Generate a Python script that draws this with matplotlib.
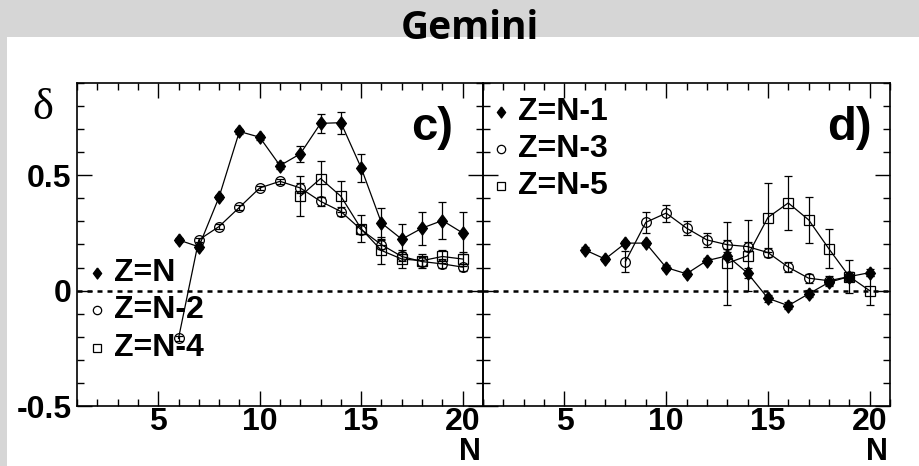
import numpy as np
import matplotlib
matplotlib.use("Agg")
from matplotlib import pyplot as plt
from matplotlib.patches import Rectangle
from matplotlib.ticker import MultipleLocator

# --- data, panel c) ---
N_c = np.arange(6, 21)
d_ZN = [0.22, 0.19, 0.406, 0.69, 0.665, 0.542, 0.593, 0.725, 0.728, 0.532, 0.293, 0.223, 0.271, 0.304, 0.25]
e_ZN = [0.01, 0.01, 0.01, 0.01, 0.01, 0.015, 0.035, 0.04, 0.047, 0.06, 0.067, 0.065, 0.072, 0.082, 0.09]
d_ZN2 = [-0.207, 0.22, 0.278, 0.361, 0.445, 0.474, 0.445, 0.387, 0.343, 0.264, 0.199, 0.148, 0.126, 0.116, 0.102]
e_ZN2 = [0.01, 0.01, 0.01, 0.01, 0.01, 0.01, 0.02, 0.02, 0.02, 0.02, 0.02, 0.02, 0.02, 0.02, 0.015]
N_c4 = np.arange(12, 21)
d_ZN4 = [0.409, 0.486, 0.409, 0.268, 0.174, 0.137, 0.13, 0.148, 0.137]
e_ZN4 = [0.087, 0.078, 0.067, 0.058, 0.058, 0.04, 0.03, 0.03, 0.03]

# --- data, panel d) ---
N_d = np.arange(6, 21)
d_ZN1 = [0.177, 0.137, 0.206, 0.206, 0.1, 0.073, 0.13, 0.151, 0.076, -0.033, -0.065, -0.014, 0.036, 0.061, 0.078]
e_ZN1 = [0.01, 0.01, 0.01, 0.01, 0.01, 0.01, 0.01, 0.015, 0.02, 0.015, 0.015, 0.015, 0.015, 0.02, 0.015]
N_d3 = np.arange(8, 20)
d_ZN3 = [0.126, 0.296, 0.336, 0.271, 0.22, 0.199, 0.191, 0.165, 0.102, 0.054, 0.043, 0.061]
e_ZN3 = [0.045, 0.045, 0.037, 0.03, 0.03, 0.02, 0.02, 0.02, 0.02, 0.02, 0.02, 0.02]
N_d5 = np.arange(13, 21)
d_ZN5 = [0.119, 0.151, 0.317, 0.38, 0.307, 0.181, 0.061, 0.0]
e_ZN5 = [0.18, 0.154, 0.148, 0.116, 0.1, 0.085, 0.07, 0.062]

# losange un peu plus large que le 'd' de matplotlib
DIAM = [(0, 1), (0.75, 0), (0, -1), (-0.75, 0), (0, 1)]

W, H = 919, 466
fig = plt.figure(figsize=(W / 100, H / 100), dpi=100)
fig.patch.set_facecolor('#d6d6d6')
fig.patches.append(Rectangle((7 / W, 0), 1, 1 - 37 / H, transform=fig.transFigure,
                             facecolor='white', edgecolor='none', zorder=-10))

fig.text(470 / W, 1 - 39 / H, 'Gemini', ha='center', va='baseline',
         fontsize=28, fontweight='bold', family='Open Sans')

bot = 1 - 406 / H
top = 1 - 83 / H
ax1 = fig.add_axes([77 / W, bot, (483 - 77) / W, top - bot])
ax2 = fig.add_axes([483 / W, bot, (890 - 483) / W, top - bot])

lab_font = dict(family='Liberation Sans', fontweight='bold')

def style(ax):
    ax.set_xlim(1, 21)
    ax.set_ylim(-0.5, 0.9)
    ax.xaxis.set_major_locator(MultipleLocator(5))
    ax.xaxis.set_minor_locator(MultipleLocator(1))
    ax.yaxis.set_major_locator(MultipleLocator(0.5))
    ax.yaxis.set_minor_locator(MultipleLocator(0.1))
    ax.tick_params(which='both', direction='in', top=True, right=True, width=1)
    ax.tick_params(which='major', length=11, labelsize=23, pad=4)
    ax.tick_params(axis='x', which='major', pad=1)
    ax.tick_params(which='minor', length=5)
    for s in ax.spines.values():
        s.set_linewidth(1.2)
    ax.axhline(0, color='k', ls=(0, (2, 2)), lw=1.8, zorder=1)
    ax.set_xticks([5, 10, 15, 20])
    ax.set_xticklabels(['5', '10', '15', '20'], **lab_font)
    ax.patch.set_alpha(0)

def series(ax, x, y, e, marker, face, ms):
    ax.errorbar(x, y, yerr=e, color='k', lw=0.9, elinewidth=0.9, capsize=3, capthick=0.9,
                marker=marker, ms=ms, mfc=face, mec='k', mew=0.9, zorder=3)

style(ax1)
style(ax2)
ax1.set_yticks([-0.5, 0, 0.5])
ax1.set_yticklabels(['-0.5', '0', '0.5'], **lab_font)
ax2.tick_params(labelleft=False)

series(ax1, N_c, d_ZN, e_ZN, DIAM, 'k', 9.5)
series(ax1, N_c, d_ZN2, e_ZN2, 'o', 'none', 7)
series(ax1, N_c4, d_ZN4, e_ZN4, 's', 'none', 7)

series(ax2, N_d, d_ZN1, e_ZN1, DIAM, 'k', 9.5)
series(ax2, N_d3, d_ZN3, e_ZN3, 'o', 'none', 7)
series(ax2, N_d5, d_ZN5, e_ZN5, 's', 'none', 7)

# legendes
def legend(ax, x0, ys, labels, markers, faces, sizes):
    for y, lab, m, f, s in zip(ys, labels, markers, faces, sizes):
        ax.plot([x0], [y], marker=m, ms=s, mfc=f, mec='k', mew=0.9,
                color='k', transform=ax.transAxes, clip_on=False)
        ax.text(x0 + 0.04, y, lab, transform=ax.transAxes, va='center', ha='left',
                fontsize=23, **lab_font)

legend(ax1, 0.05, [0.413, 0.298, 0.18], ['Z=N', 'Z=N-2', 'Z=N-4'],
       [DIAM, 'o', 's'], ['k', 'none', 'none'], [8, 6, 6])
legend(ax2, 0.045, [0.91, 0.795, 0.68], ['Z=N-1', 'Z=N-3', 'Z=N-5'],
       [DIAM, 'o', 's'], ['k', 'none', 'none'], [8, 6, 6])

ax1.text(0.926, 0.86, 'c)', transform=ax1.transAxes, ha='right', va='center', fontsize=34, **lab_font)
ax2.text(0.955, 0.86, 'd)', transform=ax2.transAxes, ha='right', va='center', fontsize=34, **lab_font)

fig.text(43 / W, 1 - 108 / H, 'δ', ha='center', va='center', fontsize=32, family='Liberation Serif')
fig.text(470 / W, 1 - 460 / H, 'N', ha='center', va='baseline', fontsize=22, **lab_font)
fig.text(877 / W, 1 - 460 / H, 'N', ha='center', va='baseline', fontsize=22, **lab_font)

fig.savefig('out.png', dpi=100, facecolor=fig.get_facecolor())
